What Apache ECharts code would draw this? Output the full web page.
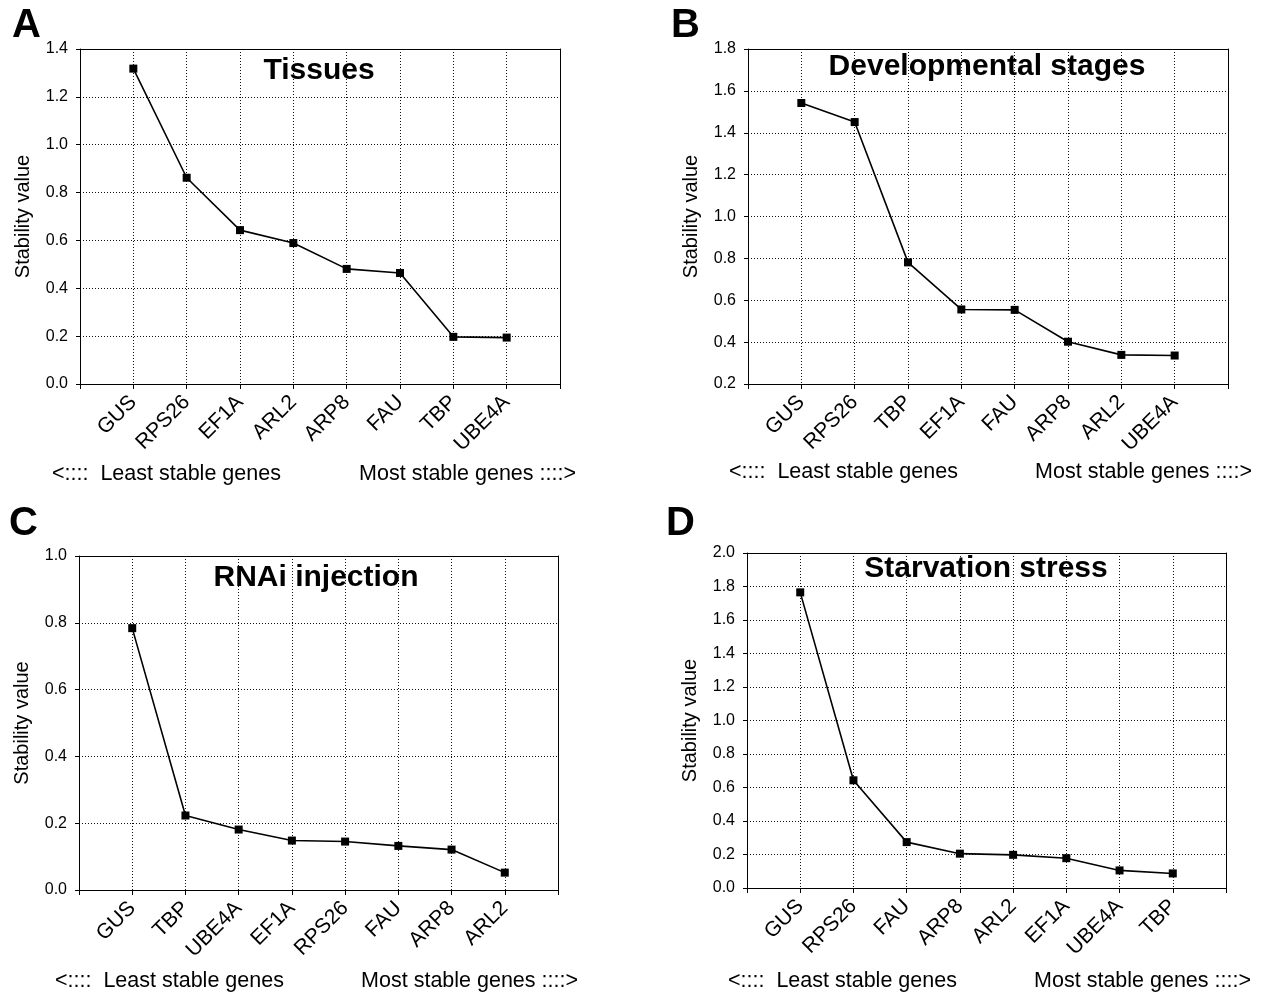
<!DOCTYPE html>
<html>
<head>
<meta charset="utf-8">
<script src="https://cdn.jsdelivr.net/npm/echarts@6/dist/echarts.min.js"></script>
<style>
html,body{margin:0;padding:0;background:#fff;}
#chart{width:1269px;height:993px;}
</style>
</head>
<body>
<div id="chart"></div>
<script>
// ---- Data ----
const catsA = ['GUS','RPS26','EF1A','ARL2','ARP8','FAU','TBP','UBE4A'];
const valsA = [1.318, 0.862, 0.643, 0.589, 0.481, 0.464, 0.197, 0.194];
const catsB = ['GUS','RPS26','TBP','EF1A','FAU','ARP8','ARL2','UBE4A'];
const valsB = [1.542, 1.451, 0.781, 0.556, 0.554, 0.402, 0.339, 0.336];
const catsC = ['GUS','TBP','UBE4A','EF1A','RPS26','FAU','ARP8','ARL2'];
const valsC = [0.784, 0.223, 0.181, 0.148, 0.145, 0.132, 0.121, 0.052];
const catsD = ['GUS','RPS26','FAU','ARP8','ARL2','EF1A','UBE4A','TBP'];
const valsD = [1.765, 0.643, 0.274, 0.205, 0.198, 0.178, 0.105, 0.087];

const titles = ['Tissues','Developmental stages','RNAi injection','Starvation stress'];
const letters = ['A','B','C','D'];
const yMins = [0, 0.2, 0, 0];
const yMaxs = [1.4, 1.8, 1.0, 2.0];
const yStep = 0.2;
const yName = 'Stability value';
const leftNote = '<::::  Least stable genes';
const rightNote = 'Most stable genes ::::>';

// ---- Layout ----
const grids = [
  {left: 80, top: 49, width: 480, height: 335},
  {left: 748, top: 49, width: 480, height: 335},
  {left: 79, top: 556, width: 479, height: 334},
  {left: 747, top: 553, width: 479, height: 335}
];
const titlePos = [[319, 71], [987, 67], [316, 578], [986, 569]];
const letterPos = [[12, 26], [671, 26], [9, 524], [666, 524]];
const notePos = [[52, 576, 474], [729, 1252, 472], [55, 578, 981], [728, 1251, 981]];

const cats = [catsA, catsB, catsC, catsD];
const vals = [valsA, valsB, valsC, valsD];
const FONT = '"Liberation Sans", Arial, sans-serif';

const option = {
  animation: false,
  backgroundColor: '#fff',
  grid: grids.map(g => Object.assign({containLabel: false}, g)),
  xAxis: [],
  yAxis: [],
  series: [],
  graphic: []
};

for (let i = 0; i < 4; i++) {
  const c = cats[i];
  option.xAxis.push({
    type: 'value', gridIndex: i, min: 0, max: 9, interval: 1, position: 'bottom',
    axisLine: {show: true, onZero: false, lineStyle: {color: '#000', width: 1}},
    axisTick: {show: true, inside: false, length: 5, lineStyle: {color: '#000'}},
    splitLine: {show: true, lineStyle: {color: '#111', width: 1, type: [1, 2]}},
    axisLabel: {
      show: true, rotate: 45, margin: 15, fontFamily: FONT, fontSize: 21, color: '#000',
      showMinLabel: true, showMaxLabel: true,
      formatter: v => (v >= 1 && v <= c.length) ? c[Math.round(v) - 1] : ''
    }
  });
  option.xAxis.push({
    type: 'value', gridIndex: i, min: 0, max: 9, position: 'top',
    axisLine: {show: true, onZero: false, lineStyle: {color: '#000', width: 1}},
    axisTick: {show: false}, axisLabel: {show: false}, splitLine: {show: false}
  });
  option.yAxis.push({
    type: 'value', gridIndex: i, min: yMins[i], max: yMaxs[i], interval: yStep, position: 'left',
    name: yName, nameLocation: 'middle', nameGap: 47, nameRotate: 90,
    nameTextStyle: {fontFamily: FONT, fontSize: 20, color: '#000'},
    axisLine: {show: true, onZero: false, lineStyle: {color: '#000', width: 1}},
    axisTick: {show: true, inside: false, length: 4, lineStyle: {color: '#000'}},
    splitLine: {show: true, lineStyle: {color: '#111', width: 1, type: [1, 2]}},
    axisLabel: {
      fontFamily: FONT, fontSize: 16, color: '#000', margin: 12,
      formatter: v => v.toFixed(1)
    }
  });
  option.yAxis.push({
    type: 'value', gridIndex: i, min: yMins[i], max: yMaxs[i], position: 'right',
    axisLine: {show: true, onZero: false, lineStyle: {color: '#000', width: 1}},
    axisTick: {show: false}, axisLabel: {show: false}, splitLine: {show: false}
  });
  option.series.push({
    type: 'line', xAxisIndex: i * 2, yAxisIndex: i * 2,
    data: vals[i].map((v, k) => [k + 1, v]),
    symbol: 'rect', symbolSize: 8, showSymbol: true,
    lineStyle: {color: '#000', width: 1.6},
    itemStyle: {color: '#000'},
    z: 5
  });
  option.graphic.push({
    type: 'text', x: titlePos[i][0], y: titlePos[i][1], z: 10,
    style: {text: titles[i], font: 'bold 30px ' + FONT, fill: '#000', align: 'center', verticalAlign: 'middle'}
  });
  option.graphic.push({
    type: 'text', x: letterPos[i][0], y: letterPos[i][1], z: 10,
    style: {text: letters[i], font: 'bold 40px ' + FONT, fill: '#000', align: 'left', verticalAlign: 'middle'}
  });
  option.graphic.push({
    type: 'text', x: notePos[i][0], y: notePos[i][2], z: 10,
    style: {text: leftNote, font: '21.5px ' + FONT, fill: '#000', align: 'left', verticalAlign: 'middle'}
  });
  option.graphic.push({
    type: 'text', x: notePos[i][1], y: notePos[i][2], z: 10,
    style: {text: rightNote, font: '21.5px ' + FONT, fill: '#000', align: 'right', verticalAlign: 'middle'}
  });
}

const chart = echarts.init(document.getElementById('chart'), null, {renderer: 'canvas'});
chart.setOption(option);
</script>
</body>
</html>
